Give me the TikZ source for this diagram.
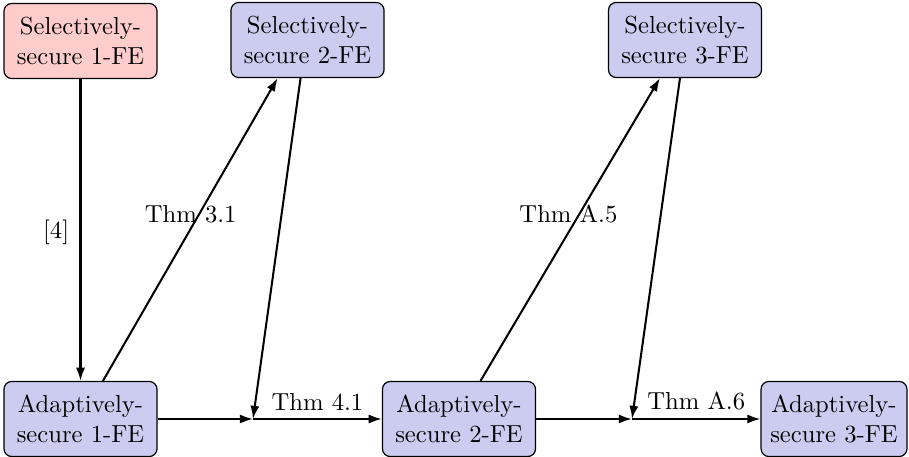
\documentclass[tikz,border=0pt]{standalone}
\usetikzlibrary{arrows.meta}
\definecolor{selfill}{RGB}{255,204,204}
\definecolor{adafill}{RGB}{204,204,240}
\begin{document}
\begin{tikzpicture}[x=0.418pt,y=-0.418pt,
  box/.style={draw, line width=0.5pt, rounded corners=3.3pt, align=center, minimum width=64pt, minimum height=31.4pt, inner sep=0pt, font=\fontsize{10.3}{12.4}\selectfont},
  selbox/.style={box, fill=selfill},
  adabox/.style={box, fill=adafill},
  lbl/.style={font=\fontsize{10.3}{12.4}\selectfont},
  arr/.style={line width=0.85pt, -{Latex[length=5.5pt,width=3.8pt]}}]
\useasboundingbox (0,0) rectangle (909,457);
\node[selbox] (S1) at (80.5,41) {Selectively-\\secure 1-FE};
\node[adabox] (S2) at (307.5,40) {Selectively-\\secure 2-FE};
\node[adabox] (S3) at (685,40) {Selectively-\\secure 3-FE};
\node[adabox] (A1) at (80.5,419) {Adaptively-\\secure 1-FE};
\node[adabox] (A2) at (459,419) {Adaptively-\\secure 2-FE};
\node[adabox, minimum width=61pt] (A3) at (834,419) {Adaptively-\\secure 3-FE};
\coordinate (J1) at (253,419);
\coordinate (J2) at (632,419);
\draw[arr] (S1) -- node[lbl, left=1pt, yshift=-1pt] {[4]} (A1);
\draw[arr] ([xshift=9.4pt]A1.north) -- node[lbl, pos=0.55, xshift=-3.5pt] {Thm 3.1} ([xshift=-12.5pt]S2.south);
\draw[arr] ([xshift=-2.9pt]S2.south) -- (J1);
\draw[arr] (A1) -- (J1);
\draw[arr] (J1) -- node[lbl, above] {Thm 4.1} (A2);
\draw[arr] ([xshift=9pt]A2.north) -- node[lbl, pos=0.55, xshift=-4.5pt] {Thm A.5} ([xshift=-10.5pt]S3.south);
\draw[arr] ([xshift=-2.1pt]S3.south) -- (J2);
\draw[arr] (A2) -- (J2);
\draw[arr] (J2) -- node[lbl, above] {Thm A.6} (A3);
\end{tikzpicture}
\end{document}
